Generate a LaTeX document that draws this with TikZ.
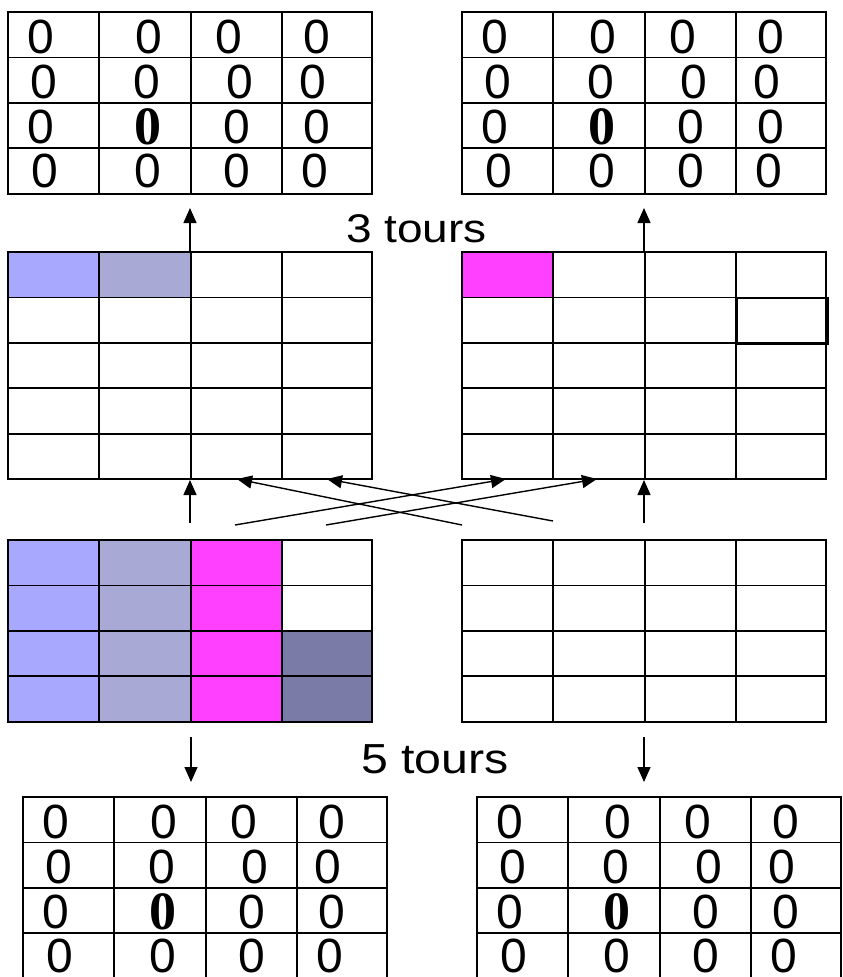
\documentclass[tikz,border=0pt]{standalone}
\usepackage{fontspec}
\usepackage{graphicx}
\setmainfont{Liberation Sans}
\newfontfamily\boldserif{Liberation Serif}
\usetikzlibrary{arrows.meta}
\definecolor{lblue}{HTML}{A8A8FF}
\definecolor{gblue}{HTML}{A9A9D6}
\definecolor{pinkc}{HTML}{FF40FF}
\definecolor{slate}{HTML}{7B7BA8}
\tikzset{
  gridline/.style={line width=1.8pt},
  arr/.style={line width=1.4pt,-{Triangle[length=15pt,width=13pt]}},
  digit/.style={inner sep=0pt,font=\fontsize{48}{48}\selectfont},
  bdigit/.style={inner sep=0pt,font=\boldserif\bfseries\fontsize{54}{54}\selectfont},
  lbl/.style={inner sep=0pt,anchor=base west}
}
\newcommand\mygrid[3]{% x0, y0, number of rows
  \draw[gridline] (#1,#2) rectangle ({#1+364},{#2+45.4*#3});
  \foreach \dx in {91,183,274}{\draw[gridline] ({#1+\dx},#2) -- ({#1+\dx},{#2+45.4*#3});}
  \foreach \r in {1,...,\numexpr#3-1\relax}{\draw[gridline] (#1,{#2+45.4*\r}) -- ({#1+364},{#2+45.4*\r});}
}
\newcommand\mydigits[3]{% x0, y0, prefix
  \foreach \r/\dy/\xs in {1/25/{33/digit,141/digit,221/digit,309/digit},
                          2/70/{36/digit,139/digit,232/digit,305/digit},
                          3/115/{33/digit,140/bdigit,229/digit,309/digit},
                          4/159/{37/digit,140/digit,229/digit,307/digit}}{
    \foreach \dx/\st [count=\c] in \xs {
      \node[\st] (#3-\r-\c) at ({#1+\dx},{#2+\dy}) {0};
    }
  }
}
\begin{document}
\begin{tikzpicture}[x=1pt,y=-1pt]
\useasboundingbox (0,0) rectangle (843,977);
% fills
\fill[lblue] (8,252) rectangle (99,298);
\fill[gblue] (99,252) rectangle (191,298);
\fill[pinkc] (462,252) rectangle (553,298);
\fill[lblue] (8,540) rectangle (99,721);
\fill[gblue] (99,540) rectangle (191,721);
\fill[pinkc] (191,540) rectangle (282,721);
\fill[slate] (282,631) rectangle (372,721);
% grids
\mygrid{8}{12}{4}
\mygrid{462}{12}{4}
\mygrid{8}{252}{5}
\mygrid{462}{252}{5}
\draw[line width=1.2pt] (737,298) rectangle (828,344);
\mygrid{8}{540}{4}
\mygrid{462}{540}{4}
\mygrid{23}{797}{4}
\mygrid{477}{797}{4}
% digits
\mydigits{8}{12}{tl}
\mydigits{462}{12}{tr}
\mydigits{23}{797}{bl}
\mydigits{477}{797}{br}
% labels
\node[lbl] (t3) at (346,242) {\fontsize{40}{40}\selectfont\scalebox{1.15}[1]{3 tours}};
\node[lbl] (t5) at (361,773) {\fontsize{42}{42}\selectfont\scalebox{1.15}[1]{5 tours}};
% arrow end points
\coordinate (aL1) at (190,523); \coordinate (bL1) at (190,480);
\coordinate (aL2) at (190,252); \coordinate (bL2) at (190,208);
\coordinate (aR1) at (644,523); \coordinate (bR1) at (644,480);
\coordinate (aR2) at (644,252); \coordinate (bR2) at (644,208);
\coordinate (c1a) at (462,525); \coordinate (c1b) at (237,479);
\coordinate (c2a) at (553,521); \coordinate (c2b) at (327,479);
\coordinate (c3a) at (235,525); \coordinate (c3b) at (506,479);
\coordinate (c4a) at (326,525); \coordinate (c4b) at (597,479);
\coordinate (dLa) at (191,737); \coordinate (dLb) at (191,782);
\coordinate (dRa) at (644,737); \coordinate (dRb) at (644,782);
\draw[arr] (aL1) -- (bL1);
\draw[arr] (aL2) -- (bL2);
\draw[arr] (aR1) -- (bR1);
\draw[arr] (aR2) -- (bR2);
\draw[arr] (c1a) -- (c1b);
\draw[arr] (c2a) -- (c2b);
\draw[arr] (c3a) -- (c3b);
\draw[arr] (c4a) -- (c4b);
\draw[arr] (dLa) -- (dLb);
\draw[arr] (dRa) -- (dRb);
\end{tikzpicture}
\end{document}
